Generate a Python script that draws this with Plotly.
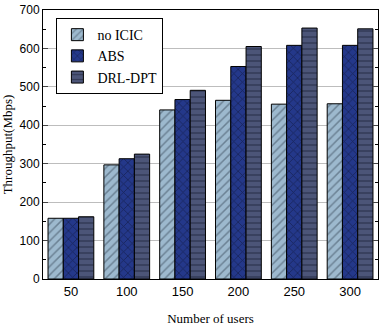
import plotly.graph_objects as go

users = ["50", "100", "150", "200", "250", "300"]
no_icic = [158, 297, 440, 465, 455, 456]
abs_vals = [158, 313, 467, 553, 608, 608]
drl_dpt = [162, 325, 491, 605, 653, 651]

fig = go.Figure()

series = [
    ("no ICIC", no_icic, "#9DB9CE", "/", "#3a4a5a"),
    ("ABS", abs_vals, "#24388A", "x", "#0a0f2a"),
    ("DRL-DPT", drl_dpt, "#4C5578", "-", "#1a1f33"),
]
for name, vals, color, shape, fg in series:
    fig.add_trace(go.Bar(
        x=users, y=vals, name=name,
        marker=dict(color=color, line=dict(color="black", width=1),
                    pattern=dict(shape=shape, fgcolor=fg, size=6, solidity=0.25)),
    ))

fig.update_layout(
    width=382, height=327,
    margin=dict(l=43, r=3, t=8, b=48),
    plot_bgcolor="white", paper_bgcolor="white",
    barmode="group", bargap=0.18, bargroupgap=0,
    font=dict(family="Liberation Sans, Arial", size=13, color="black"),
    legend=dict(x=0.04, y=0.97, xanchor="left", yanchor="top",
                bordercolor="black", borderwidth=1, bgcolor="white",
                font=dict(family="Liberation Serif, Times New Roman", size=14),
                tracegroupgap=0, itemwidth=30),
    xaxis=dict(title=dict(text="Number of users", standoff=16,
                          font=dict(family="Liberation Serif, Times New Roman", size=13)),
               showline=True, linecolor="black", linewidth=1, mirror=True,
               ticks="", tickfont=dict(size=13)),
    yaxis=dict(title=dict(text="Throughput(Mbps)", standoff=4,
                          font=dict(family="Liberation Serif, Times New Roman", size=13)),
               range=[0, 700], dtick=100, ticks="inside", ticklen=5,
               showline=True, linecolor="black", linewidth=1, mirror="allticks",
               showgrid=True, gridcolor="#bdbdbd", gridwidth=1,
               minor=dict(dtick=50, ticks="inside", ticklen=3, tickcolor="black", showgrid=False),
               tickfont=dict(size=12)),
)

fig.write_html("out.html", config={"displayModeBar": False},
               post_script="document.body.style.margin='0';")
